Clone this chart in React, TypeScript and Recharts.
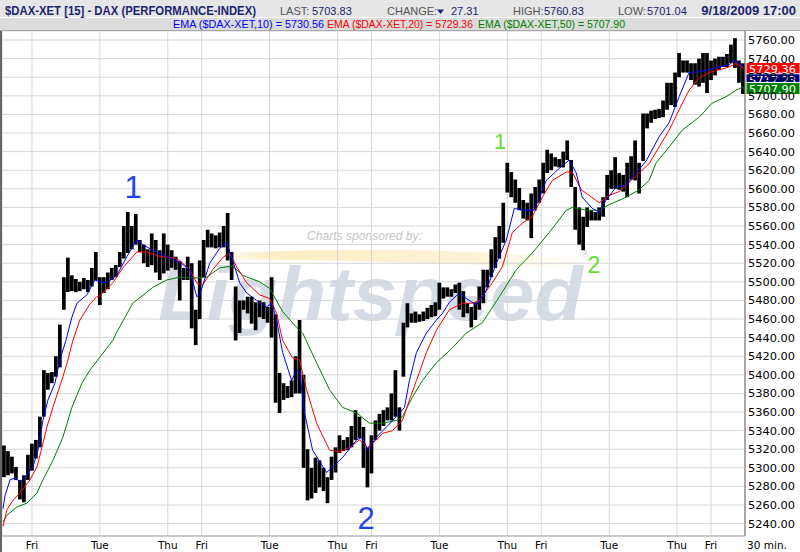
import React from 'react';
import { ComposedChart, Bar, Line, XAxis, YAxis, CartesianGrid, ReferenceLine } from 'recharts';

// ---- axis data ----
const dayTicks = [30, 98, 166, 200, 268, 336, 370, 438, 506, 540, 608, 676, 710]; // 15-min bar index of each session start
const dayLabels = ['Fri', 'Tue', 'Thu', 'Fri', 'Tue', 'Thu', 'Fri', 'Tue', 'Thu', 'Fri', 'Tue', 'Thu', 'Fri'];
const priceTicks = [5240, 5260, 5280, 5300, 5320, 5340, 5360, 5380, 5400, 5420, 5440, 5460, 5480, 5500,
  5520, 5540, 5560, 5580, 5600, 5620, 5640, 5660, 5680, 5700, 5720, 5740, 5760];

// ---- hourly high / low of the 15-min DAX bars (one sample per hour = 4 bars) ----
const hourHigh = [
  5324, 5318, 5312, 5301, 5287, 5292, 5314, 5326, 5330, 5355,
  5405, 5402, 5403, 5420, 5454, 5505, 5526, 5507, 5503, 5500,
  5504, 5502, 5515, 5532, 5505, 5505, 5510, 5515, 5518, 5532,
  5560, 5575, 5560, 5573, 5545, 5540, 5535, 5552, 5545, 5534,
  5552, 5540, 5534, 5527, 5522, 5515, 5527, 5520, 5470, 5523,
  5545, 5556, 5552, 5550, 5553, 5560, 5574, 5532, 5495, 5480,
  5480, 5484, 5484, 5478, 5480, 5478, 5473, 5505, 5465, 5402,
  5391, 5388, 5394, 5420, 5459, 5400, 5320, 5300, 5311, 5308,
  5300, 5290, 5312, 5322, 5335, 5330, 5333, 5345, 5362, 5355,
  5344, 5322, 5335, 5351, 5358, 5362, 5365, 5380, 5405, 5365,
  5456, 5477, 5466, 5468, 5465, 5468, 5472, 5475, 5478, 5499,
  5494, 5494, 5492, 5497, 5499, 5490, 5477, 5473, 5478, 5495,
  5513, 5513, 5535, 5548, 5560, 5585, 5628, 5618, 5610, 5601,
  5588, 5585, 5595, 5602, 5610, 5628, 5642, 5638, 5634, 5632,
  5640, 5652, 5631, 5602, 5580, 5570, 5580, 5577, 5575, 5580,
  5591, 5615, 5620, 5634, 5617, 5615, 5628, 5635, 5652, 5628,
  5681, 5681, 5684, 5685, 5686, 5695, 5714, 5714, 5725, 5746,
  5738, 5738, 5735, 5735, 5740, 5746, 5746, 5738, 5740, 5742,
  5742, 5745, 5755, 5762, 5738, 5735,
];
const hourLow = [
  5290, 5292, 5294, 5287, 5266, 5263, 5287, 5297, 5310, 5322,
  5355, 5384, 5391, 5398, 5408, 5470, 5489, 5490, 5489, 5490,
  5492, 5489, 5495, 5502, 5475, 5488, 5492, 5502, 5505, 5516,
  5525, 5531, 5535, 5540, 5532, 5520, 5516, 5518, 5510, 5502,
  5509, 5512, 5515, 5513, 5480, 5502, 5502, 5450, 5432, 5460,
  5505, 5537, 5537, 5536, 5537, 5537, 5523, 5502, 5437, 5445,
  5470, 5466, 5455, 5448, 5462, 5460, 5456, 5440, 5370, 5359,
  5373, 5375, 5376, 5380, 5380, 5300, 5265, 5267, 5273, 5279,
  5275, 5262, 5287, 5295, 5316, 5318, 5319, 5322, 5330, 5332,
  5300, 5279, 5294, 5330, 5340, 5345, 5351, 5351, 5355, 5340,
  5398, 5451, 5456, 5456, 5457, 5458, 5460, 5462, 5463, 5470,
  5482, 5484, 5484, 5488, 5470, 5462, 5466, 5451, 5459, 5470,
  5477, 5494, 5505, 5515, 5525, 5542, 5596, 5591, 5585, 5577,
  5568, 5566, 5547, 5577, 5585, 5595, 5617, 5620, 5624, 5623,
  5623, 5631, 5602, 5556, 5540, 5534, 5559, 5566, 5566, 5566,
  5570, 5588, 5600, 5600, 5599, 5597, 5591, 5610, 5609, 5595,
  5630, 5665, 5671, 5675, 5676, 5677, 5685, 5690, 5688, 5720,
  5725, 5725, 5717, 5712, 5710, 5714, 5703, 5717, 5722, 5728,
  5731, 5731, 5735, 5730, 5714, 5702,
];

// ---- moving averages: [15-min bar index, value] ----
const ema10Points = [
  [1, 5256], [3, 5270], [8, 5287], [13, 5289], [18, 5285], [23, 5290], [31, 5301], [36, 5319], [41, 5351],
  [46, 5373], [53, 5391], [58, 5416], [64, 5437], [70, 5462], [75, 5477], [85, 5486], [93, 5502], [98, 5500],
  [105, 5499], [115, 5507], [125, 5527], [135, 5545], [141, 5540], [151, 5534], [165, 5527], [178, 5521],
  [188, 5513], [195, 5484], [198, 5486], [208, 5520], [218, 5536], [225, 5542], [231, 5523], [238, 5499],
  [245, 5488], [255, 5480], [265, 5473], [270, 5477], [275, 5459], [281, 5424], [290, 5394], [295, 5405],
  [298, 5403], [303, 5359], [311, 5319], [325, 5295], [331, 5301], [341, 5311], [355, 5330], [361, 5333],
  [366, 5319], [375, 5333], [385, 5344], [395, 5355], [403, 5365], [408, 5394], [415, 5424], [425, 5445],
  [435, 5459], [441, 5466], [448, 5478], [458, 5488], [465, 5482], [475, 5475], [485, 5491], [495, 5520],
  [505, 5545], [513, 5579], [521, 5577], [533, 5577], [545, 5609], [558, 5622], [568, 5631], [575, 5617],
  [581, 5591], [591, 5579], [598, 5575], [605, 5588], [615, 5602], [625, 5604], [635, 5617], [645, 5630],
  [658, 5656], [668, 5671], [678, 5699], [688, 5725], [698, 5726], [708, 5728], [718, 5731], [728, 5733],
  [733, 5738], [738, 5735], [743, 5731],
];
const ema20Points = [
  [1, 5237], [5, 5255], [11, 5265], [18, 5273], [28, 5287], [35, 5301], [40, 5322], [45, 5344], [51, 5365],
  [58, 5388], [65, 5412], [71, 5437], [78, 5459], [88, 5476], [95, 5484], [98, 5485], [111, 5499], [121, 5515],
  [135, 5532], [145, 5532], [158, 5527], [171, 5526], [178, 5523], [188, 5513], [195, 5499], [201, 5497],
  [211, 5513], [221, 5526], [228, 5531], [235, 5516], [245, 5499], [258, 5486], [268, 5482], [275, 5466],
  [281, 5437], [291, 5418], [298, 5416], [305, 5384], [315, 5348], [328, 5319], [338, 5317], [348, 5322],
  [358, 5330], [366, 5322], [375, 5330], [381, 5337], [391, 5340], [401, 5351], [408, 5373], [415, 5394],
  [425, 5424], [435, 5448], [448, 5470], [461, 5477], [471, 5477], [478, 5480], [491, 5499], [501, 5516],
  [511, 5553], [521, 5563], [531, 5570], [541, 5591], [551, 5609], [565, 5618], [571, 5618], [580, 5599],
  [588, 5593], [598, 5585], [608, 5593], [618, 5597], [628, 5607], [638, 5617], [648, 5627], [658, 5645],
  [668, 5663], [678, 5685], [688, 5706], [698, 5719], [708, 5725], [718, 5728], [728, 5731], [735, 5735],
  [743, 5729],
];
const ema50Points = [
  [1, 5242], [5, 5249], [15, 5258], [25, 5262], [35, 5273], [41, 5287], [51, 5308], [61, 5333], [70, 5365],
  [80, 5391], [88, 5405], [98, 5419], [111, 5437], [115, 5446], [131, 5477], [151, 5494], [165, 5502],
  [178, 5505], [191, 5504], [205, 5505], [218, 5515], [231, 5517], [241, 5507], [258, 5500], [268, 5493],
  [281, 5468], [295, 5451], [301, 5445], [315, 5413], [328, 5384], [341, 5365], [355, 5359], [368, 5348],
  [381, 5348], [395, 5351], [401, 5355], [411, 5376], [421, 5394], [435, 5413], [451, 5429], [465, 5445],
  [481, 5456], [498, 5484], [515, 5513], [531, 5531], [548, 5553], [565, 5577], [571, 5580], [585, 5577],
  [598, 5577], [608, 5583], [625, 5591], [638, 5599], [648, 5609], [655, 5628], [668, 5645], [681, 5663],
  [698, 5677], [711, 5692], [725, 5699], [735, 5706], [741, 5709], [743, 5708],
];

// ---- last-value tags on the price axis ----
const tagValues = [5729.36, 5717.23, 5707.9];
const tagLabels = ['5729.36', '5717.23', '5707.90'];
const tagColors = ['#ff0000', '#000080', '#008000'];

const priceRows = hourHigh.map((h, k) => ({ t: k * 4 + 2, range: [hourLow[k], h] }));
const toRows = (pts: number[][]) => pts.map(([t, v]) => ({ t, v }));
const ema10Rows = toRows(ema10Points);
const ema20Rows = toRows(ema20Points);
const ema50Rows = toRows(ema50Points);

const AXIS_FONT = '"DejaVu Sans", Verdana, sans-serif';
const HEAD_FONT = '"Liberation Sans", Arial, sans-serif';
const NAVY = '#1b2470';
const BAR_W = 3.7;

const DayTick = (p: any) => {
  const i = dayTicks.indexOf(p.payload.value);
  return (
    <text x={p.x} y={p.y + 13} textAnchor="middle" fontFamily={AXIS_FONT} fontSize={10.5} fill="#000">
      {dayLabels[i]}
    </text>
  );
};

const PriceTick = (p: any) => (
  <text x={p.x} y={p.y + 4} textAnchor="start" fontFamily={AXIS_FONT} fontSize={11} fill="#000"
    textLength={47} lengthAdjust="spacingAndGlyphs">
    {p.payload.value.toFixed(2)}
  </text>
);

const PriceBarShape = (p: any) => {
  if (p.height == null || isNaN(p.height)) return null;
  const cx = p.x + p.width / 2;
  const y = p.height < 0 ? p.y + p.height : p.y;
  const h = Math.max(Math.abs(p.height), 1);
  return <rect x={cx - BAR_W / 2} y={y} width={BAR_W} height={h} fill="#000000" />;
};

const makeTag = (i: number) => (p: any) => {
  const vb = p.viewBox || {};
  const x = vb.x + vb.width + 1;
  const y = vb.y;
  return (
    <g>
      <rect x={x} y={y - 6} width={54} height={12} fill={tagColors[i]} stroke="#ffffff" strokeWidth={1} />
      <text x={x + 3} y={y + 4.5} fill="#ffffff" fontFamily={AXIS_FONT} fontSize={11}
        textLength={47} lengthAdjust="spacingAndGlyphs">{tagLabels[i]}</text>
    </g>
  );
};

export default function App() {
  return (
    <div style={{ position: 'relative', width: 800, height: 552, background: '#ffffff', overflow: 'hidden' }}>
      <style>{'body{margin:0;}'}</style>
      {/* sponsor watermark behind the chart */}
      <svg width={800} height={552} style={{ position: 'absolute', left: 0, top: 0 }}>
        <defs>
          <linearGradient id="swoosh" x1="0" x2="1" y1="0" y2="0">
            <stop offset="0" stopColor="#fbeec2" stopOpacity={0.2} />
            <stop offset="0.12" stopColor="#fbeec2" stopOpacity={1} />
            <stop offset="0.7" stopColor="#fcf2d4" stopOpacity={0.9} />
            <stop offset="1" stopColor="#fdf6e2" stopOpacity={0.2} />
          </linearGradient>
        </defs>
        <path d="M 228 253 Q 420 244 585 260 L 578 268 Q 420 262 236 259 Z" fill="url(#swoosh)" />
        <text x={307} y={240} fontFamily={HEAD_FONT} fontStyle="italic" fontSize={13} fill="#c6c6c6"
          textLength={115} lengthAdjust="spacingAndGlyphs">Charts sponsored by:</text>
        <text x={158} y={320} fontFamily={HEAD_FONT} fontStyle="italic" fontWeight="bold" fontSize={76}
          fill="#d5dce6" textLength={425} lengthAdjust="spacingAndGlyphs">Lightspeed</text>
        <text x={582} y={257} fontFamily={HEAD_FONT} fontSize={9} fill="#cccccc">®</text>
      </svg>

      <div style={{ position: 'absolute', left: 0, top: 0 }}>
        <ComposedChart width={800} height={552} data={priceRows} margin={{ top: 31, right: 0, bottom: 0, left: 2 }}>
          <CartesianGrid stroke="#d6d6d6" strokeWidth={1} />
          <XAxis dataKey="t" type="number" domain={[0, 744]} ticks={dayTicks} interval={0} height={16}
            axisLine={{ stroke: '#aaaaaa' }} tickLine={false} tickSize={0} tickMargin={0}
            tick={(p: any) => <DayTick {...p} />} allowDataOverflow />
          <YAxis orientation="right" type="number" domain={[5226.7, 5769.7]} ticks={priceTicks} interval={0}
            width={55} axisLine={{ stroke: '#666666' }} tickLine={false} tickSize={0} tickMargin={3}
            tick={(p: any) => <PriceTick {...p} />} allowDataOverflow />
          <Bar dataKey="range" fill="#000000" barSize={3} shape={(p: any) => <PriceBarShape {...p} />}
            isAnimationActive={false} />
          <Line data={ema50Rows} dataKey="v" type="linear" stroke="#008000" strokeWidth={1} dot={false}
            activeDot={false} isAnimationActive={false} />
          <Line data={ema20Rows} dataKey="v" type="linear" stroke="#ff0000" strokeWidth={1} dot={false}
            activeDot={false} isAnimationActive={false} />
          <Line data={ema10Rows} dataKey="v" type="linear" stroke="#0000ff" strokeWidth={1} dot={false}
            activeDot={false} isAnimationActive={false} />
          {tagValues.map((v, i) => (
            <ReferenceLine key={i} y={v} stroke="none" label={makeTag(i)} />
          ))}
        </ComposedChart>
      </div>

      {/* header, annotations, frame */}
      <svg width={800} height={552} style={{ position: 'absolute', left: 0, top: 0, pointerEvents: 'none' }}>
        <rect x={0} y={0} width={800} height={17} fill="#e6e6e6" />
        <rect x={0} y={18} width={800} height={12} fill="#dcdcdc" />
        <line x1={0} y1={30.5} x2={800} y2={30.5} stroke="#a8a8a8" />
        <rect x={0} y={31} width={2} height={521} fill="#666666" />

        <text x={5} y={15} fontFamily={HEAD_FONT} fontWeight="bold" fontSize={13} fill={NAVY}
          textLength={251} lengthAdjust="spacingAndGlyphs">$DAX-XET [15] - DAX (PERFORMANCE-INDEX)</text>
        <g fontFamily={HEAD_FONT} fontSize={11}>
          <text x={280} y={15} fill="#555555">LAST:</text>
          <text x={312} y={15} fill={NAVY}>5703.83</text>
          <text x={387} y={15} fill="#555555">CHANGE:</text>
          <polygon points="437,9.5 444,9.5 440.5,14" fill={NAVY} />
          <text x={451} y={15} fill={NAVY}>27.31</text>
          <text x={513} y={15} fill="#555555">HIGH:</text>
          <text x={544} y={15} fill={NAVY}>5760.83</text>
          <text x={618} y={15} fill="#555555">LOW:</text>
          <text x={647} y={15} fill={NAVY}>5701.04</text>
        </g>
        <text x={796} y={15} textAnchor="end" fontFamily={HEAD_FONT} fontWeight="bold" fontSize={13} fill={NAVY}>
          9/18/2009 17:00
        </text>
        <g fontFamily={HEAD_FONT} fontSize={10.5}>
          <text x={173} y={28} fill="#0000ff" textLength={151} lengthAdjust="spacingAndGlyphs">EMA ($DAX-XET,10) = 5730.56</text>
          <text x={327} y={28} fill="#ff0000" textLength={146} lengthAdjust="spacingAndGlyphs">EMA ($DAX-XET,20) = 5729.36</text>
          <text x={478} y={28} fill="#008000" textLength={147} lengthAdjust="spacingAndGlyphs">EMA ($DAX-XET,50) = 5707.90</text>
        </g>

        <text x={767} y={549} textAnchor="middle" fontFamily={AXIS_FONT} fontSize={10.5} fill="#000">30 min.</text>

        <g fontFamily={HEAD_FONT}>
          <text x={133} y={198} textAnchor="middle" fontSize={31} fill="#2244ee">1</text>
          <text x={366} y={529} textAnchor="middle" fontSize={31} fill="#2244ee">2</text>
          <text x={500} y={149} textAnchor="middle" fontSize={22} fill="#66dd33">1</text>
          <text x={594} y={273} textAnchor="middle" fontSize={23} fill="#66dd33">2</text>
        </g>
      </svg>
    </div>
  );
}
